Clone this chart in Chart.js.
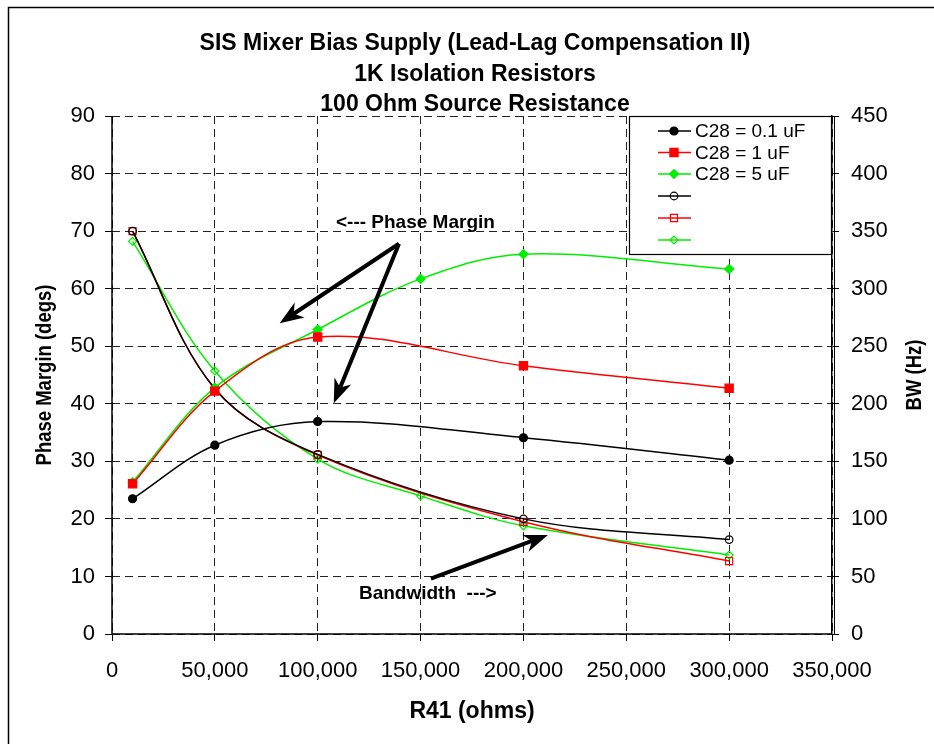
<!DOCTYPE html>
<html>
<head>
<meta charset="utf-8">
<title>SIS Mixer Bias Supply</title>
<script src="https://cdn.jsdelivr.net/npm/chart.js@4.4.0/dist/chart.umd.min.js"></script>
<style>
  body { margin: 0; background: #fff; }
  canvas { display: block; }
</style>
</head>
<body>
<canvas id="chart" width="934" height="744"></canvas>
<script>
const titleLines = ['SIS Mixer Bias Supply (Lead-Lag Compensation II)', '1K Isolation Resistors', '100 Ohm Source Resistance'];
const seriesLabels = ['C28 = 0.1 uF', 'C28 = 1 uF', 'C28 = 5 uF'];

// R41 in ohms (5 uF runs have an extra 150k point)
const r41 = [10000, 50000, 100000, 200000, 300000];
const r41Green = [10000, 50000, 100000, 150000, 200000, 300000];

// phase margin, degs (left axis)
const pmC01 = [23.5, 32.8, 36.9, 34.1, 30.2];
const pmC1 = [26.1, 42.2, 51.6, 46.6, 42.7];
const pmC5 = [26.4, 42.8, 52.9, 61.7, 66.0, 63.4];

// bandwidth, Hz (right axis)
const bwC01 = [350, 213, 156, 100, 82];
const bwC1 = [350, 213, 155.5, 97.5, 63.4];
const bwC5 = [341, 228.5, 152, 120, 94, 68.6];

const fontName = '"Liberation Sans", Arial, sans-serif';

function toPoints(xs, ys) {
    return xs.map((x, i) => ({ x: x, y: ys[i] }));
}

function makeSet(label, xs, ys, color, style, radius, filled, axis) {
    return {
        label: label,
        data: toPoints(xs, ys),
        yAxisID: axis,
        borderColor: color,
        backgroundColor: filled ? color : 'rgba(0,0,0,0)',
        borderWidth: 1.5,
        pointStyle: style,
        pointRadius: radius,
        pointHoverRadius: radius,
        pointBorderColor: color,
        pointBackgroundColor: filled ? color : 'rgba(0,0,0,0)',
        pointBorderWidth: 1.2,
        tension: 0.35,
        fill: false
    };
}

const datasets = [
    makeSet(seriesLabels[0], r41, pmC01, '#000000', 'circle', 4, true, 'y'),
    makeSet(seriesLabels[1], r41, pmC1, '#ff0000', 'rect', 5.8, true, 'y'),
    makeSet(seriesLabels[2], r41Green, pmC5, '#00ee00', 'rectRot', 4.5, true, 'y'),
    makeSet('', r41, bwC01, '#000000', 'circle', 3.8, false, 'y1'),
    makeSet('', r41, bwC1, '#ff0000', 'rect', 5, false, 'y1'),
    makeSet('', r41Green, bwC5, '#00ee00', 'rectRot', 4, false, 'y1')
];

// callouts, in data units of x / left axis
const notes = [
    { text: '<--- Phase Margin', x: 147500, y: 71.5 },
    { text: 'Bandwidth  --->', x: 153500, y: 7.0 }
];
const arrows = [
    { from: [139500, 67.8], to: [81500, 54.0] },
    { from: [139500, 67.8], to: [107800, 40.1] },
    { from: [155000, 9.6], to: [211900, 17.2] }
];

function drawArrow(ctx, x1, y1, x2, y2) {
    const ang = Math.atan2(y2 - y1, x2 - x1);
    const cos = Math.cos(ang), sin = Math.sin(ang);
    const head = 24, half = 9, notch = 17;
    ctx.lineWidth = 4;
    ctx.beginPath();
    ctx.moveTo(x1, y1);
    ctx.lineTo(x2 - notch * cos, y2 - notch * sin);
    ctx.stroke();
    const bx = x2 - head * cos, by = y2 - head * sin;
    ctx.beginPath();
    ctx.moveTo(x2, y2);
    ctx.lineTo(bx + half * sin, by - half * cos);
    ctx.lineTo(x2 - notch * cos, y2 - notch * sin);
    ctx.lineTo(bx - half * sin, by + half * cos);
    ctx.closePath();
    ctx.fill();
}

// rotated axis title, a bit wider across like the original export
function drawSideTitle(ctx, text, x, y) {
    ctx.save();
    ctx.font = 'bold 18.5px ' + fontName;
    ctx.textAlign = 'center';
    ctx.textBaseline = 'middle';
    ctx.translate(x, y);
    ctx.rotate(-Math.PI / 2);
    ctx.scale(1, 1.22);
    ctx.fillText(text, 0, 0);
    ctx.restore();
}

const extras = {
    id: 'extras',
    beforeDraw(chart) {
        const ctx = chart.ctx;
        ctx.save();
        ctx.fillStyle = '#fff';
        ctx.fillRect(0, 0, chart.width, chart.height);
        ctx.strokeStyle = '#000';
        ctx.lineWidth = 1.5;
        ctx.strokeRect(8.5, 7.5, chart.width + 20, chart.height + 20);
        ctx.restore();
    },
    beforeDatasetsDraw(chart) {
        // solid left and bottom axis lines over the dashed grid
        const ctx = chart.ctx, a = chart.chartArea;
        ctx.save();
        ctx.strokeStyle = '#000';
        ctx.lineWidth = 1.5;
        ctx.beginPath();
        ctx.moveTo(a.left, a.top);
        ctx.lineTo(a.left, a.bottom);
        ctx.lineTo(a.right, a.bottom);
        ctx.stroke();
        ctx.lineWidth = 1;
        ctx.beginPath();
        ctx.moveTo(a.right + 2.5, a.top);
        ctx.lineTo(a.right + 2.5, a.bottom);
        ctx.stroke();
        ctx.restore();
    },
    afterDraw(chart) {
        const ctx = chart.ctx;
        const xs = chart.scales.x, ys = chart.scales.y;
        const a = chart.chartArea;
        ctx.save();
        ctx.fillStyle = '#000';
        ctx.strokeStyle = '#000';

        // titles
        ctx.textAlign = 'center';
        ctx.textBaseline = 'middle';
        ctx.font = 'bold 23px ' + fontName;
        const tops = [44, 75, 105];
        titleLines.forEach((t, i) => ctx.fillText(t, 475, tops[i]));

        // side axis titles, reading upward
        const midY = (a.top + a.bottom) / 2;
        drawSideTitle(ctx, 'Phase Margin (degs)', 45, midY);
        drawSideTitle(ctx, 'BW (Hz)', 915, midY);

        // callouts
        ctx.font = 'bold 19px ' + fontName;
        notes.forEach(n => ctx.fillText(n.text, xs.getPixelForValue(n.x), ys.getPixelForValue(n.y)));
        arrows.forEach(a => drawArrow(ctx,
            xs.getPixelForValue(a.from[0]), ys.getPixelForValue(a.from[1]),
            xs.getPixelForValue(a.to[0]), ys.getPixelForValue(a.to[1])));

        // legend box
        const lx = 629.5, ly = 116.5, lw = 202, lh = 138;
        ctx.fillStyle = '#fff';
        ctx.fillRect(lx, ly, lw, lh);
        ctx.lineWidth = 1.2;
        ctx.strokeStyle = '#000';
        ctx.strokeRect(lx, ly, lw, lh);
        const rowY = [131, 152.5, 174, 196, 218, 240];
        ctx.font = '19px ' + fontName;
        ctx.textAlign = 'left';
        chart.data.datasets.forEach((ds, i) => {
            const y = rowY[i];
            ctx.strokeStyle = ds.borderColor;
            ctx.lineWidth = 1.5;
            ctx.beginPath();
            ctx.moveTo(658, y);
            ctx.lineTo(691, y);
            ctx.stroke();
            ctx.fillStyle = ds.pointBackgroundColor;
            ctx.lineWidth = ds.pointBorderWidth;
            Chart.helpers.drawPoint(ctx, { pointStyle: ds.pointStyle, radius: ds.pointRadius, rotation: 0, borderWidth: ds.pointBorderWidth }, 674, y);
            if (ds.label) {
                ctx.fillStyle = '#000';
                ctx.fillText(ds.label, 695, y + 1);
            }
        });
        ctx.restore();
    }
};

const tickFont = { family: fontName, size: 22 };

new Chart('chart', {
    type: 'line',
    data: { datasets: datasets },
    options: {
        responsive: false,
        animation: false,
        devicePixelRatio: 1,
        layout: { padding: { top: 116, left: 0, right: 0, bottom: 0 } },
        plugins: { legend: { display: false }, tooltip: { enabled: false }, title: { display: false } },
        scales: {
            x: {
                type: 'linear',
                min: 0,
                max: 350000,
                afterFit: s => { s.height = 110; },
                ticks: {
                    stepSize: 50000,
                    color: '#000',
                    font: tickFont,
                    padding: 17,
                    maxRotation: 0,
                    callback: v => v.toLocaleString('en-US')
                },
                grid: { color: '#222', lineWidth: 1, tickLength: 7, tickColor: '#000' },
                border: { display: false, dash: [8, 5] },
                title: { display: true, text: 'R41 (ohms)', color: '#000', font: { family: fontName, size: 23, weight: 'bold' }, padding: { top: 4, bottom: 19 } }
            },
            y: {
                position: 'left',
                min: 0,
                max: 90,
                afterFit: s => { s.width = 112; },
                ticks: { stepSize: 10, color: '#000', font: tickFont, padding: 10 },
                grid: { color: '#222', lineWidth: 1, tickLength: 7, tickColor: '#000' },
                border: { display: false, dash: [8, 5] },
                title: { display: false, text: 'Phase Margin (degs)' }
            },
            y1: {
                position: 'right',
                min: 0,
                max: 450,
                afterFit: s => { s.width = 102; },
                ticks: { stepSize: 50, color: '#000', font: tickFont, padding: 12 },
                grid: { drawOnChartArea: false, tickLength: 7, tickColor: '#000' },
                border: { display: true, color: '#000', width: 1.5 },
                title: { display: false, text: 'BW (Hz)' }
            }
        }
    },
    plugins: [extras]
});
</script>
</body>
</html>
